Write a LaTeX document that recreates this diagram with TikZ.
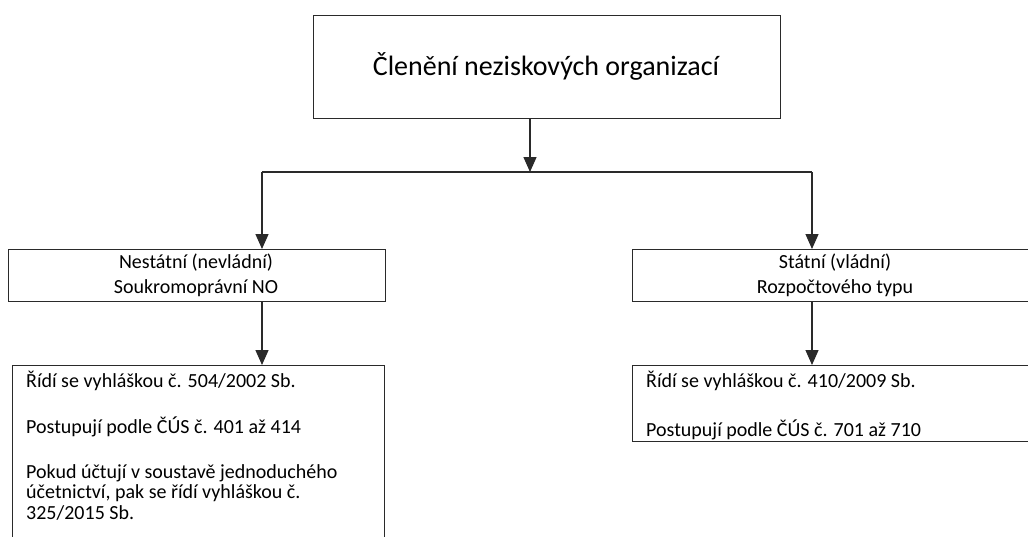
\documentclass[tikz,border=0pt]{standalone}
\usepackage{fontspec}
\setmainfont{Carlito}
\usetikzlibrary{arrows.meta}
\definecolor{ink}{HTML}{2A2A2A}
\tikzset{
  x=1pt, y=-1pt,
  box/.style={draw=ink, line width=1.3pt, rectangle, inner sep=0pt, anchor=north west},
  txt/.style={inner sep=0pt, text=black, font=\fontsize{20}{20.5}\selectfont},
  conn/.style={draw=ink, line width=1.3pt, -{Triangle[width=13pt,length=15pt]}},
  line/.style={draw=ink, line width=1.3pt}
}
\begin{document}
\begin{tikzpicture}
\useasboundingbox (0,0) rectangle (1028,536);
\clip (0,0) rectangle (1028,536);
\fill[white] (0,0) rectangle (1028,536);
% boxes
\node[box, minimum width=467pt, minimum height=103pt] (top) at (313,15) {};
\node[txt, font=\fontsize{28}{32}\selectfont, anchor=base] (toptxt) at (546,75) {Členění neziskových organizací};
\node[box, minimum width=377pt, minimum height=52pt] (lmid) at (8,249) {};
\node[txt, align=center, font=\fontsize{20}{25}\selectfont, anchor=base] (lmidtxt) at (196,293) {Nestátní (nevládní)\\Soukromoprávní NO};
\node[box, minimum width=420pt, minimum height=52pt] (rmid) at (632,249) {};
\node[txt, align=center, font=\fontsize{20}{25}\selectfont, anchor=base] (rmidtxt) at (835,293) {Státní (vládní)\\Rozpočtového typu};
\node[box, minimum width=372pt, minimum height=200pt] (lbot) at (12,365) {};
\node[txt, align=left, anchor=base west] (lbottxt) at (26,519) {Řídí se vyhláškou č. 504/2002 Sb.\\[25.5pt]Postupují podle ČÚS č. 401 až 414\\[24.5pt]Pokud účtují v soustavě jednoduchého\\účetnictví, pak se řídí vyhláškou č.\\325/2015 Sb.};
\node[box, minimum width=420pt, minimum height=76pt] (rbot) at (632,365) {};
\node[txt, align=left, anchor=base west] (rbottxt) at (646,436) {Řídí se vyhláškou č. 410/2009 Sb.\\[28.5pt]Postupují podle ČÚS č. 701 až 710};
% connectors
\coordinate (split) at (530,172);
\coordinate (jl) at (262,172);
\coordinate (jr) at (812,172);
\draw[conn] (top.south -| split) -- (split);
\draw[line] (jl) -- (jr);
\draw[conn] (jl) -- (jl |- lmid.north);
\draw[conn] (jr) -- (jr |- rmid.north);
\draw[conn] (lmid.south -| jl) -- (jl |- lbot.north);
\draw[conn] (rmid.south -| jr) -- (jr |- rbot.north);
\end{tikzpicture}
\end{document}
